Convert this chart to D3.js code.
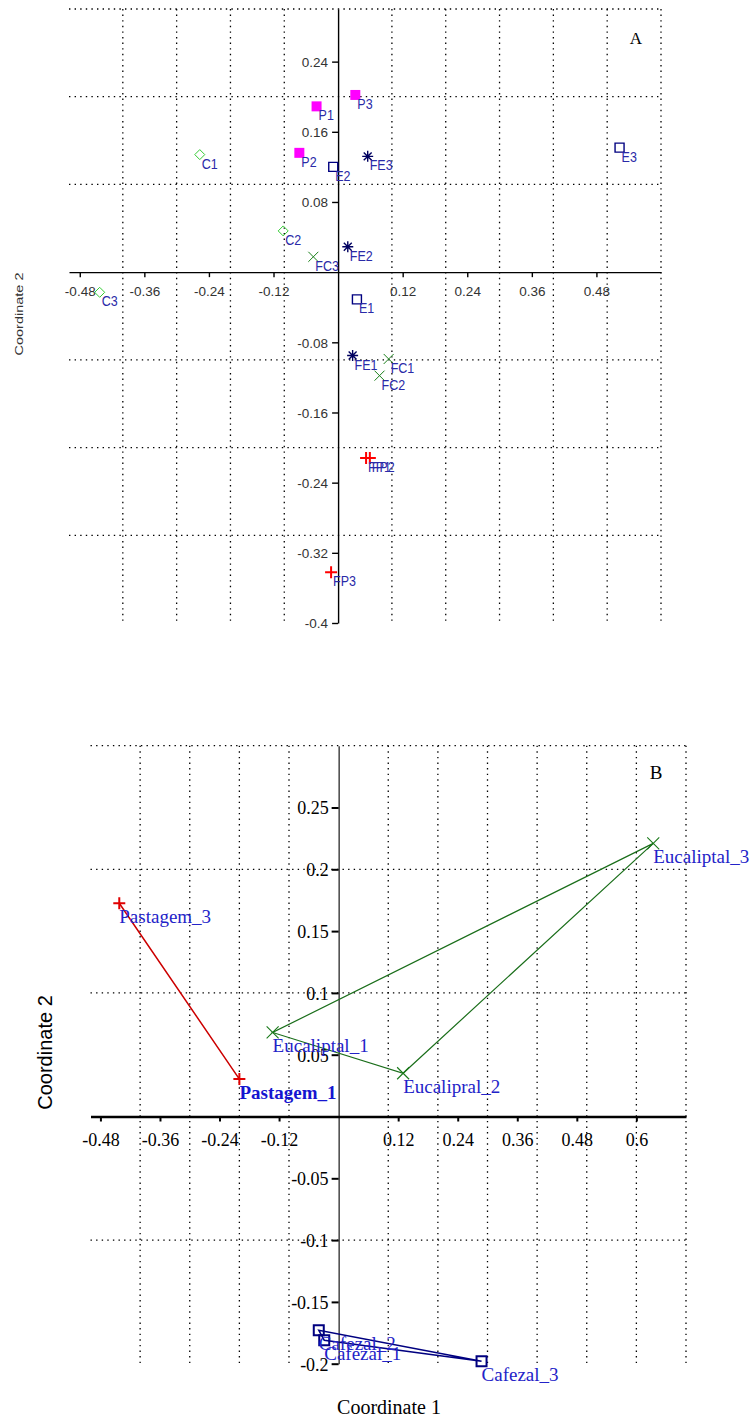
<!DOCTYPE html>
<html><head><meta charset="utf-8">
<script src="https://cdn.jsdelivr.net/npm/d3@7"></script>
<style>body{margin:0;background:#fff}svg{display:block}</style>
</head><body>
<svg id="c" width="756" height="1418"></svg>
<script>
// ---------- Panel A data ----------
const aNames  = ["P1","P2","P3","C1","C2","C3","E1","E2","E3","FE1","FE2","FE3","FC1","FC2","FC3","FP1","FP2","FP3"];
const aGroups = ["P","P","P","C","C","C","E","E","E","FE","FE","FE","FC","FC","FC","FP","FP","FP"];
const aX = [-0.040,-0.072,0.032,-0.257,-0.102,-0.443,0.035,-0.009,0.523,0.027,0.018,0.055,0.094,0.077,-0.046,0.052,0.059,-0.013];
const aY = [0.189,0.136,0.202,0.134,0.047,-0.023,-0.031,0.120,0.142,-0.095,0.029,0.132,-0.099,-0.118,0.0175,-0.212,-0.212,-0.342];
const aXTicks = [-0.48,-0.36,-0.24,-0.12,0.12,0.24,0.36,0.48];
const aYTicks = [0.24,0.16,0.08,-0.08,-0.16,-0.24,-0.32,-0.4];
const aXGrid = [-0.4,-0.3,-0.2,-0.1,0.1,0.2,0.3,0.4,0.5,0.6];
const aYGrid = [0.3,0.2,0.1,-0.1,-0.2,-0.3];

// ---------- Panel B data ----------
const bNames  = ["Pastagem_1","Pastagem_3","Eucaliptal_1","Eucalipral_2","Eucaliptal_3","Cafezal_1","Cafezal_2","Cafezal_3"];
const bGroups = ["Pastagem","Pastagem","Eucaliptal","Eucaliptal","Eucaliptal","Cafezal","Cafezal","Cafezal"];
const bX = [-0.200,-0.442,-0.133,0.130,0.634,-0.029,-0.040,0.288];
const bY = [0.0303,0.1725,0.068,0.035,0.221,-0.181,-0.173,-0.198];
const bXTicks = [-0.48,-0.36,-0.24,-0.12,0.12,0.24,0.36,0.48,0.6];
const bYTicks = [0.25,0.2,0.15,0.1,0.05,-0.05,-0.1,-0.15,-0.2];
const bXGrid = [-0.4,-0.3,-0.2,-0.1,0.1,0.2,0.3,0.4,0.5,0.6,0.7];
const bYGrid = [0.3,0.2,0.1,-0.1];

const svg = d3.select("#c");
const fmt = d => String(d);

function shape(type, s) {
  const h = s / 2, d = h * 0.72;
  switch (type) {
    case "square": return `M${-h},${-h}H${h}V${h}H${-h}Z`;
    case "diamond": return `M0,${-h}L${h},0L0,${h}L${-h},0Z`;
    case "plus": return `M${-h},0H${h}M0,${-h}V${h}`;
    case "x": return `M${-h},${-h}L${h},${h}M${-h},${h}L${h},${-h}`;
    case "asterisk": return `M${-h},0H${h}M0,${-h}V${h}M${-d},${-d}L${d},${d}M${-d},${d}L${d},${-d}`;
  }
}

function grid(g, x, y, xs, ys) {
  const [x0, x1] = x.range(), [y0, y1] = y.range();
  g.selectAll(".gv").data(xs).join("line")
    .attr("x1", d => x(d)).attr("x2", d => x(d))
    .attr("y1", y1).attr("y2", y0)
    .attr("stroke", "#000").attr("stroke-width", 1.3).attr("stroke-dasharray", "1.4,4.2");
  g.selectAll(".gh").data(ys).join("line")
    .attr("y1", d => y(d)).attr("y2", d => y(d))
    .attr("x1", x0).attr("x2", x1)
    .attr("stroke", "#000").attr("stroke-width", 1.3).attr("stroke-dasharray", "1.4,4.2");
}

// ================= Panel A =================
{
  const x = d3.scaleLinear().domain([-0.5, 0.6]).range([69, 661]);
  const y = d3.scaleLinear().domain([-0.4, 0.3]).range([623, 9]);
  const g = svg.append("g");
  grid(g.append("g"), x, y, aXGrid, aYGrid);

  const xa = g.append("g").attr("transform", `translate(0,${y(0)})`)
    .call(d3.axisBottom(x).tickValues(aXTicks).tickFormat(fmt).tickSize(5).tickSizeOuter(0));
  xa.select(".domain").attr("stroke-width", 1.4);
  xa.selectAll(".tick line").attr("stroke-width", 1.4);
  xa.selectAll("text").attr("y", 19).attr("dy", "0.35em")
    .attr("font-family", "Liberation Sans, Arial, sans-serif").attr("font-size", 13.5).attr("fill", "#333");

  const ya = g.append("g").attr("transform", `translate(${x(0)},0)`)
    .call(d3.axisLeft(y).tickValues(aYTicks).tickFormat(fmt).tickSize(6).tickSizeOuter(0));
  ya.select(".domain").attr("stroke-width", 1.4);
  ya.selectAll(".tick line").attr("stroke-width", 1.4);
  ya.selectAll("text").attr("x", -10).attr("dy", "0.35em")
    .attr("font-family", "Liberation Sans, Arial, sans-serif").attr("font-size", 13.5).attr("fill", "#333");

  const style = {
    P:  {t: "square",   s: 10, fill: "#ff00ff", stroke: "none", w: 0},
    C:  {t: "diamond",  s: 10, fill: "none", stroke: "#33cc33", w: 1},
    E:  {t: "square",   s: 9,  fill: "none", stroke: "#000080", w: 1.4},
    FE: {t: "asterisk", s: 11, fill: "none", stroke: "#000060", w: 1.4},
    FC: {t: "x",        s: 10, fill: "none", stroke: "#1a801a", w: 1},
    FP: {t: "plus",     s: 12, fill: "none", stroke: "#ff0000", w: 2}
  };
  const idx = d3.range(aNames.length);
  g.append("g").selectAll("path").data(idx).join("path")
    .attr("transform", i => `translate(${x(aX[i])},${y(aY[i])})`)
    .attr("d", i => shape(style[aGroups[i]].t, style[aGroups[i]].s))
    .attr("fill", i => style[aGroups[i]].fill)
    .attr("stroke", i => style[aGroups[i]].stroke)
    .attr("stroke-width", i => style[aGroups[i]].w);
  g.append("g").selectAll("text").data(idx).join("text")
    .attr("transform", i => `translate(${x(aX[i]) + 2},${y(aY[i]) + 9}) scale(1,1.15)`)
    .attr("dy", "0.35em")
    .attr("font-family", "Liberation Sans, Arial, sans-serif").attr("font-size", 12.5)
    .attr("fill", "#2a2aa8").text(i => aNames[i]);

  g.append("text").attr("x", 636).attr("y", 38).attr("dy", "0.35em").attr("text-anchor", "middle")
    .attr("font-family", "Liberation Serif, Times New Roman, serif").attr("font-size", 17).text("A");
  g.append("text").attr("transform", "translate(19,314) rotate(-90)").attr("text-anchor", "middle").attr("dy", "0.35em")
    .attr("font-family", "Liberation Sans, Arial, sans-serif").attr("font-size", 11).attr("fill", "#333")
    .attr("textLength", 83).attr("lengthAdjust", "spacingAndGlyphs").text("Coordinate 2");
}

// ================= Panel B =================
{
  const x = d3.scaleLinear().domain([-0.5, 0.7]).range([90.5, 686]);
  const y = d3.scaleLinear().domain([-0.2, 0.3]).range([1363.7, 745.7]);
  const g = svg.append("g");
  grid(g.append("g"), x, y, bXGrid, bYGrid);

  const serif = "Liberation Serif, Times New Roman, serif";
  const xa = g.append("g").attr("transform", `translate(0,${y(0)})`)
    .call(d3.axisBottom(x).tickValues(bXTicks).tickFormat(fmt).tickSize(5).tickSizeOuter(0));
  xa.select(".domain").attr("stroke-width", 2.6);
  xa.selectAll(".tick line").attr("stroke-width", 2);
  xa.selectAll("text").attr("y", 23).attr("dy", "0.35em")
    .attr("font-family", serif).attr("font-size", 18).attr("fill", "#000");

  const ya = g.append("g").attr("transform", `translate(${x(0)},0)`)
    .call(d3.axisLeft(y).tickValues(bYTicks).tickFormat(fmt).tickSize(7).tickSizeOuter(0));
  ya.select(".domain").attr("stroke-width", 1.1);
  ya.selectAll(".tick line").attr("stroke-width", 2);
  ya.selectAll("text").attr("x", -10).attr("dy", "0.35em")
    .attr("font-family", serif).attr("font-size", 18).attr("fill", "#000");

  const style = {
    Pastagem:   {t: "plus",   s: 12, stroke: "#e00000", w: 2, line: "#cc0000"},
    Eucaliptal: {t: "x",      s: 12, stroke: "#1a7a1a", w: 1.1, line: "#1a6e1a"},
    Cafezal:    {t: "square", s: 10, stroke: "#000080", w: 2, line: "#000080"}
  };
  const idx = d3.range(bNames.length);
  const groups = ["Pastagem", "Eucaliptal", "Cafezal"];
  g.append("g").selectAll("path").data(groups).join("path")
    .attr("d", grp => {
      const pts = idx.filter(i => bGroups[i] === grp).map(i => [x(bX[i]), y(bY[i])]);
      const hull = d3.polygonHull(pts) || pts;
      return "M" + hull.join("L") + "Z";
    })
    .attr("fill", "none")
    .attr("stroke", grp => style[grp].line)
    .attr("stroke-width", grp => grp === "Eucaliptal" ? 1.2 : 1.5);

  g.append("g").selectAll("path").data(idx).join("path")
    .attr("transform", i => `translate(${x(bX[i])},${y(bY[i])})`)
    .attr("d", i => shape(style[bGroups[i]].t, style[bGroups[i]].s))
    .attr("fill", "none")
    .attr("stroke", i => style[bGroups[i]].stroke)
    .attr("stroke-width", i => style[bGroups[i]].w);
  g.append("g").selectAll("text").data(idx).join("text")
    .attr("x", i => x(bX[i])).attr("y", i => y(bY[i]) + 13).attr("dy", "0.35em")
    .attr("font-family", serif).attr("font-size", 19)
    .attr("font-weight", i => bNames[i] === "Pastagem_1" ? "bold" : "normal")
    .attr("fill", i => bNames[i] === "Pastagem_1" ? "#1515d0" : "#2323c8").text(i => bNames[i]);

  g.append("text").attr("x", 656).attr("y", 772).attr("dy", "0.35em").attr("text-anchor", "middle")
    .attr("font-family", serif).attr("font-size", 19).text("B");
  g.append("text").attr("transform", "translate(45,1052.5) rotate(-90)").attr("text-anchor", "middle").attr("dy", "0.35em")
    .attr("font-family", "Liberation Sans, Arial, sans-serif").attr("font-size", 20).text("Coordinate 2");
  g.append("text").attr("x", 389).attr("y", 1407).attr("dy", "0.35em").attr("text-anchor", "middle")
    .attr("font-family", serif).attr("font-size", 20).text("Coordinate 1");
}
</script>
</body></html>
